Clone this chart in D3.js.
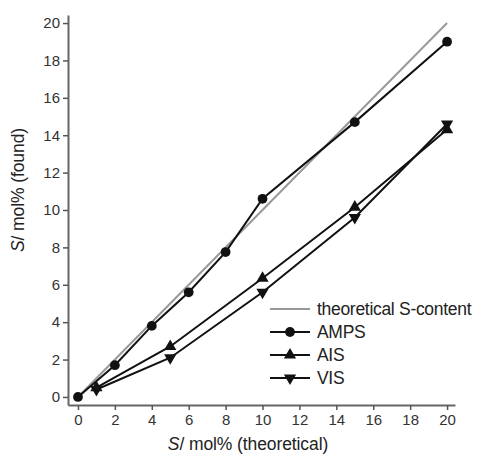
<!DOCTYPE html>
<html>
<head>
<meta charset="utf-8">
<script src="https://cdn.jsdelivr.net/npm/d3@7"></script>
<style>
  body { margin: 0; background: #fff; }
  text { font-family: "Liberation Sans", Arial, sans-serif; }
</style>
</head>
<body>
<div id="chart"></div>
<script>
// data
const ampsX = [0, 2, 4, 6, 8, 10, 15, 20];
const ampsY = [0, 1.7, 3.8, 5.6, 7.75, 10.6, 14.7, 19.0];
const aisX = [1, 5, 10, 15, 20];
const aisY = [0.5, 2.7, 6.35, 10.15, 14.3];
const visX = [1, 5, 10, 15, 20];
const visY = [0.4, 2.1, 5.6, 9.6, 14.6];
const theoryX = [0, 20];
const theoryY = [0, 20];
const tickValues = [0, 2, 4, 6, 8, 10, 12, 14, 16, 18, 20];
const legendLabels = ["theoretical S-content", "AMPS", "AIS", "VIS"];

const width = 481, height = 462;

const svg = d3.select("#chart")
  .append("svg")
  .attr("width", width)
  .attr("height", height);

const xScale = d3.scaleLinear().domain([-0.54, 20.43]).range([68, 455]);
const yScale = d3.scaleLinear().domain([-0.43, 20.43]).range([405, 15]);

const zip = (xs, ys) => xs.map((x, i) => ({ x: x, y: ys[i] }));
const line = d3.line().x(d => xScale(d.x)).y(d => yScale(d.y));

// axes
const xAxis = d3.axisBottom(xScale).tickValues(tickValues).tickSizeInner(5).tickSizeOuter(0).tickPadding(4);
const yAxis = d3.axisLeft(yScale).tickValues(tickValues).tickSizeInner(5).tickSizeOuter(0).tickPadding(3);

const gx = svg.append("g").attr("transform", `translate(0,${yScale.range()[0]})`).call(xAxis);
const gy = svg.append("g").attr("transform", `translate(${xScale.range()[0]},0)`).call(yAxis);

[gx, gy].forEach(g => {
  g.select(".domain").attr("stroke", "#666").attr("stroke-width", 2);
  g.selectAll(".tick line").attr("stroke", "#555").attr("stroke-width", 1.5);
  g.selectAll(".tick text")
    .attr("font-size", 15)
    .attr("fill", "#333")
    .style("font-family", "Liberation Sans, Arial, sans-serif");
});

// axis titles
const xt = svg.append("text")
  .attr("x", 248).attr("y", 450)
  .attr("text-anchor", "middle")
  .attr("font-size", 17.5)
  .attr("letter-spacing", -0.1)
  .attr("fill", "#222");
xt.append("tspan").attr("font-style", "italic").text("S");
xt.append("tspan").text("/ mol% (theoretical)");

const yt = svg.append("text")
  .attr("transform", "translate(24,190) rotate(-90)")
  .attr("text-anchor", "middle")
  .attr("font-size", 17.5)
  .attr("letter-spacing", -0.1)
  .attr("fill", "#222");
yt.append("tspan").attr("font-style", "italic").text("S");
yt.append("tspan").text("/ mol% (found)");

// theoretical line
svg.append("path")
  .datum(zip(theoryX, theoryY))
  .attr("d", line)
  .attr("fill", "none")
  .attr("stroke", "#999")
  .attr("stroke-width", 2);

const series = [
  { name: "AMPS", data: zip(ampsX, ampsY), symbol: d3.symbolCircle, size: 75, rot: 0 },
  { name: "AIS", data: zip(aisX, aisY), symbol: d3.symbolTriangle, size: 65, rot: 0 },
  { name: "VIS", data: zip(visX, visY), symbol: d3.symbolTriangle, size: 65, rot: 180 }
];

series.forEach(s => {
  svg.append("path")
    .datum(s.data)
    .attr("d", line)
    .attr("fill", "none")
    .attr("stroke", "#111")
    .attr("stroke-width", 2);

  svg.selectAll(null)
    .data(s.data)
    .enter()
    .append("path")
      .attr("d", d3.symbol().type(s.symbol).size(s.size))
      .attr("transform", d => `translate(${xScale(d.x)},${yScale(d.y)}) rotate(${s.rot})`)
      .attr("fill", "#111");
});

// legend
const legend = svg.append("g").attr("transform", "translate(270,309)");
legendLabels.forEach((label, i) => {
  const row = legend.append("g").attr("transform", `translate(0,${i * 23})`);
  row.append("line")
    .attr("x1", 0).attr("x2", 40)
    .attr("stroke", i === 0 ? "#999" : "#111")
    .attr("stroke-width", 2);
  if (i > 0) {
    const s = series[i - 1];
    row.append("path")
      .attr("d", d3.symbol().type(s.symbol).size(s.size))
      .attr("transform", `translate(20,0) rotate(${s.rot})`)
      .attr("fill", "#111");
  }
  row.append("text")
    .attr("x", 47).attr("y", 0)
    .attr("dy", "0.35em")
    .attr("font-size", 17.5)
    .attr("letter-spacing", -0.3)
    .attr("fill", "#222")
    .text(label);
});
</script>
</body>
</html>
